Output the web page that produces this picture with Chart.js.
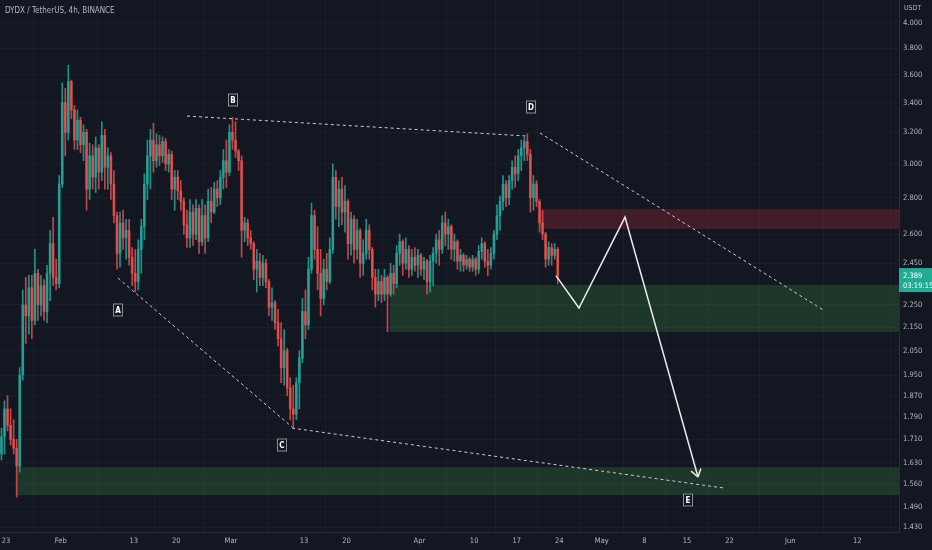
<!DOCTYPE html>
<html><head><meta charset="utf-8">
<script src="https://cdn.jsdelivr.net/npm/chart.js@4.4.0/dist/chart.umd.min.js"></script>
<style>html,body{margin:0;padding:0;background:#131722;overflow:hidden}canvas{display:block}</style>
</head><body>
<canvas id="c" width="932" height="550"></canvas>
<script>
// Time unit: days since 2023-01-23 00:00. 12h candles, first starts Jan 22 00:00.
const firstCandleDay = -1;
const candleDays = 0.5;
const opens = [1.66,1.72,1.82,1.76,1.71,1.68,1.62,1.95,2.25,2.20,2.33,2.18,2.40,2.25,2.34,2.22,2.40,2.55,2.38,2.35,
2.88,3.40,3.20,3.55,3.35,3.15,3.28,3.12,3.20,2.85,3.05,2.92,3.10,2.95,3.18,2.98,3.05,2.88,2.70,2.50,
2.66,2.58,2.62,2.48,2.40,2.36,2.52,2.64,2.88,3.05,3.15,3.02,3.12,3.05,3.14,3.00,3.06,2.85,2.92,2.84,
2.78,2.65,2.58,2.72,2.60,2.74,2.56,2.70,2.58,2.78,2.72,2.85,2.80,2.92,3.02,2.95,3.20,3.15,3.08,3.02,
2.62,2.66,2.58,2.55,2.42,2.46,2.38,2.45,2.36,2.24,2.26,2.17,2.10,1.98,2.05,1.90,1.82,1.80,1.92,2.02,
2.22,2.16,2.42,2.70,2.52,2.40,2.28,2.42,2.36,2.52,2.92,2.75,2.85,2.72,2.78,2.55,2.68,2.52,2.62,2.45,
2.50,2.62,2.52,2.38,2.30,2.36,2.30,2.38,2.30,2.40,2.35,2.50,2.56,2.45,2.52,2.42,2.48,2.44,2.49,2.42,
2.46,2.36,2.46,2.50,2.57,2.52,2.66,2.60,2.64,2.52,2.56,2.46,2.49,2.44,2.47,2.43,2.47,2.42,2.51,2.55,
2.46,2.44,2.50,2.60,2.70,2.78,2.88,2.80,2.90,2.98,2.94,3.05,3.10,3.14,3.06,2.80,2.88,2.78,2.66,2.60,
2.47,2.53,2.49,2.52];
const highs = [1.75,1.85,1.87,1.82,1.78,1.71,1.98,2.32,2.38,2.39,2.39,2.52,2.42,2.39,2.37,2.44,2.62,2.69,2.47,2.93,
3.54,3.50,3.67,3.56,3.38,3.35,3.30,3.25,3.22,3.13,3.12,3.17,3.12,3.27,3.22,3.10,3.07,2.96,2.72,2.72,
2.73,2.68,2.68,2.53,2.52,2.57,2.68,2.94,3.15,3.22,3.26,3.19,3.18,3.17,3.16,3.09,3.08,2.96,2.96,2.90,
2.80,2.73,2.79,2.76,2.79,2.76,2.79,2.76,2.85,2.86,2.89,2.90,2.96,3.09,3.15,3.25,3.30,3.27,3.09,3.05,
2.69,2.68,2.62,2.56,2.52,2.50,2.49,2.47,2.37,2.33,2.27,2.23,2.17,2.14,2.06,1.94,1.91,1.94,2.05,2.28,
2.32,2.48,2.77,2.73,2.64,2.52,2.47,2.50,2.58,3.00,2.96,2.90,2.92,2.87,2.79,2.72,2.70,2.68,2.63,2.57,
2.68,2.65,2.53,2.42,2.42,2.39,2.42,2.39,2.45,2.44,2.54,2.60,2.57,2.58,2.54,2.52,2.53,2.52,2.50,2.48,
2.47,2.49,2.53,2.60,2.62,2.70,2.72,2.68,2.65,2.60,2.57,2.52,2.50,2.49,2.48,2.49,2.48,2.54,2.58,2.56,
2.52,2.53,2.62,2.76,2.81,2.93,2.90,2.93,3.02,3.05,3.09,3.15,3.17,3.19,3.09,2.93,2.90,2.79,2.73,2.61,
2.56,2.55,2.55,2.53];
const lows = [1.64,1.66,1.74,1.69,1.66,1.52,1.60,1.93,2.08,2.12,2.10,2.16,2.18,2.20,2.18,2.17,2.27,2.34,2.32,2.33,
2.86,3.05,3.15,3.29,3.09,3.09,3.07,3.02,2.73,2.79,2.85,2.83,2.85,2.90,2.85,2.85,2.79,2.66,2.42,2.43,
2.52,2.47,2.44,2.34,2.31,2.32,2.40,2.57,2.79,2.85,2.95,2.98,2.99,3.01,2.96,2.95,2.79,2.73,2.79,2.73,
2.60,2.53,2.53,2.54,2.57,2.50,2.54,2.50,2.56,2.66,2.71,2.75,2.76,2.85,2.86,2.93,3.09,3.04,2.96,2.48,
2.56,2.54,2.52,2.37,2.31,2.34,2.34,2.33,2.20,2.18,2.14,2.07,1.92,1.91,1.87,1.78,1.75,1.78,1.82,2.00,
2.10,2.14,2.40,2.47,2.32,2.20,2.25,2.32,2.35,2.50,2.68,2.64,2.65,2.61,2.47,2.49,2.45,2.47,2.38,2.39,
2.47,2.47,2.32,2.24,2.27,2.26,2.27,2.13,2.29,2.30,2.33,2.44,2.39,2.42,2.38,2.39,2.41,2.38,2.39,2.37,
2.30,2.31,2.34,2.45,2.44,2.50,2.54,2.52,2.47,2.46,2.42,2.41,2.41,2.42,2.41,2.41,2.39,2.40,2.47,2.43,
2.39,2.42,2.47,2.57,2.62,2.73,2.75,2.76,2.85,2.86,2.90,2.96,3.02,3.02,2.72,2.73,2.75,2.61,2.57,2.43,
2.44,2.44,2.47,2.35];
const closes = [1.72,1.82,1.76,1.71,1.68,1.62,1.95,2.25,2.20,2.33,2.18,2.40,2.25,2.34,2.22,2.40,2.55,2.38,2.35,2.88,
3.40,3.20,3.55,3.35,3.15,3.28,3.12,3.20,2.85,3.05,2.92,3.10,2.95,3.18,2.98,3.05,2.88,2.70,2.50,2.66,
2.58,2.62,2.48,2.40,2.36,2.52,2.64,2.88,3.05,3.15,3.02,3.12,3.05,3.14,3.00,3.06,2.85,2.92,2.84,2.78,
2.65,2.58,2.72,2.60,2.74,2.56,2.70,2.58,2.78,2.72,2.85,2.80,2.92,3.02,2.95,3.20,3.15,3.08,3.02,2.62,
2.66,2.58,2.55,2.42,2.46,2.38,2.45,2.36,2.24,2.26,2.17,2.10,1.98,2.05,1.90,1.82,1.80,1.92,2.02,2.22,
2.16,2.42,2.70,2.52,2.40,2.28,2.42,2.36,2.52,2.92,2.75,2.85,2.72,2.78,2.55,2.68,2.52,2.62,2.45,2.50,
2.62,2.52,2.38,2.30,2.36,2.30,2.38,2.30,2.40,2.35,2.50,2.56,2.45,2.52,2.42,2.48,2.44,2.49,2.42,2.46,
2.36,2.46,2.50,2.57,2.52,2.66,2.60,2.64,2.52,2.56,2.46,2.49,2.44,2.47,2.43,2.47,2.42,2.51,2.55,2.46,
2.44,2.50,2.60,2.70,2.78,2.88,2.80,2.90,2.98,2.94,3.05,3.10,3.14,3.06,2.80,2.88,2.78,2.66,2.60,2.47,
2.53,2.49,2.52,2.389];

const yTicks = [4.0,3.8,3.6,3.4,3.2,3.0,2.8,2.6,2.45,2.25,2.15,2.05,1.95,1.87,1.79,1.71,1.63,1.56,1.49,1.43];
const xTickDays = [0,9,21,28,37,49,56,68,77,84,91,98,105,112,119,129,140];
const xTickLabels = ['23','Feb','13','20','Mar','13','20','Apr','10','17','24','May','8','15','22','Jun','12'];
const xRange = [-0.99, 146.88];
const yRange = [1.4157, 4.192];
const title = 'DYDX / TetherUS, 4h, BINANCE';
const currency = 'USDT';
const lastPrice = 2.389;
const countdown = '03:19:15';

// Drawings (data coordinates: [day, price])
const zones = [
  {from: 87.83, top: 2.736, bottom: 2.627, color: 'rgba(242,54,69,0.21)'},
  {from: 63.16, top: 2.344, bottom: 2.129, color: 'rgba(76,175,80,0.21)'},
  {from: 1.81, top: 1.616, bottom: 1.526, color: 'rgba(76,175,80,0.21)'}
];
const dashedLines = [
  [[29.77, 3.308], [85.69, 3.176]],
  [[87.83, 3.196], [134.70, 2.222]],
  [[18.42, 2.377], [47.04, 1.754]],
  [[47.04, 1.750], [117.93, 1.549]]
];
const projection = [[90.46, 2.389], [94.24, 2.236], [101.81, 2.692], [113.82, 1.584]];
const waveLabels = [
  {t: 'A', d: 18.42, p: 2.227},
  {t: 'B', d: 37.34, p: 3.418},
  {t: 'C', d: 45.39, p: 1.691},
  {t: 'D', d: 86.35, p: 3.370},
  {t: 'E', d: 112.17, p: 1.511}
];

const UP = 'rgba(38,166,154,0.85)', DN = 'rgba(239,83,80,0.8)';
const FONT = '"Liberation Sans Narrow", "DejaVu Sans Condensed", "Arial Narrow", Arial, sans-serif';
const TXT = '#b2b5be';
const GRID = 'rgba(255,255,255,0.03)';

const xs = opens.map((_, i) => firstCandleDay + (i + 0.5) * candleDays);
const colors = opens.map((o, i) => closes[i] >= o ? UP : DN);

const noPad = s => { s.paddingLeft = 0; s.paddingRight = 0; s.paddingTop = 0; s.paddingBottom = 0; };

const drawings = {
  id: 'drawings',
  beforeDraw(chart) {
    const c = chart.ctx;
    c.save(); c.fillStyle = '#131722'; c.fillRect(0, 0, chart.width, chart.height); c.restore();
  },
  beforeDatasetsDraw(chart) {
    const {ctx: c, chartArea: a, scales: {x, y}} = chart;
    c.save();
    zones.forEach(z => {
      const x0 = x.getPixelForValue(z.from);
      const y0 = y.getPixelForValue(z.top), y1 = y.getPixelForValue(z.bottom);
      c.fillStyle = z.color;
      c.fillRect(x0, y0, a.right - x0, y1 - y0);
    });
    c.restore();
  },
  afterDatasetsDraw(chart) {
    const {ctx: c, chartArea: a, scales: {x, y}} = chart;
    const P = pt => [x.getPixelForValue(pt[0]), y.getPixelForValue(pt[1])];
    c.save();
    c.beginPath(); c.rect(a.left, a.top, a.width, a.height); c.clip();
    c.strokeStyle = '#c9ccd4'; c.lineWidth = 1; c.setLineDash([3, 3]);
    dashedLines.forEach(l => {
      const p0 = P(l[0]), p1 = P(l[1]);
      c.beginPath(); c.moveTo(p0[0], p0[1]); c.lineTo(p1[0], p1[1]); c.stroke();
    });
    c.setLineDash([]);
    c.strokeStyle = '#ececec'; c.lineWidth = 1.5; c.lineJoin = 'miter';
    c.beginPath();
    projection.forEach((pt, i) => { const p = P(pt); i ? c.lineTo(p[0], p[1]) : c.moveTo(p[0], p[1]); });
    c.stroke();
    const tip = P(projection[projection.length - 1]), prev = P(projection[projection.length - 2]);
    const ang = Math.atan2(prev[1] - tip[1], prev[0] - tip[0]);
    c.beginPath();
    [0.6, -0.6].forEach(da => {
      c.moveTo(tip[0], tip[1]);
      c.lineTo(tip[0] + 9 * Math.cos(ang + da), tip[1] + 9 * Math.sin(ang + da));
    });
    c.stroke();
    c.font = 'bold 8px ' + FONT; c.textAlign = 'center'; c.textBaseline = 'middle';
    waveLabels.forEach(l => {
      const px = Math.round(x.getPixelForValue(l.d)), py = Math.round(y.getPixelForValue(l.p));
      c.fillStyle = '#131722'; c.fillRect(px - 5, py - 6.5, 10, 13);
      c.strokeStyle = '#8a8e99'; c.lineWidth = 1; c.strokeRect(px - 4.5, py - 6, 9, 12);
      c.fillStyle = '#ffffff'; c.fillText(l.t, px, py + 0.5);
    });
    c.restore();
  },
  afterDraw(chart) {
    const {ctx: c, chartArea: a, scales: {y}} = chart;
    c.save();
    c.fillStyle = TXT; c.font = '8px ' + FONT; c.textBaseline = 'middle'; c.textAlign = 'left';
    c.fillText(title, 5, 11);
    c.font = '7px ' + FONT; c.fillText(currency, a.right + 5, 8);
    const py = y.getPixelForValue(lastPrice);
    c.fillStyle = '#22ab94'; c.fillRect(a.right, py - 7.5, chart.width - a.right, 24);
    c.fillStyle = '#ffffff'; c.font = '7.5px ' + FONT;
    c.fillText(lastPrice.toFixed(3), a.right + 4, py);
    c.fillText(countdown, a.right + 4, py + 10);
    c.restore();
  }
};

new Chart(document.getElementById('c'), {
  type: 'bar',
  data: {
    datasets: [
      {label: 'wick', data: xs.map((d, i) => ({x: d, y: [lows[i], highs[i]]})),
       backgroundColor: colors, barThickness: 1, grouped: false, order: 2, borderSkipped: false},
      {label: 'body', data: xs.map((d, i) => ({x: d, y: [opens[i], closes[i]]})),
       backgroundColor: colors, barThickness: 2, grouped: false, order: 1, borderSkipped: false}
    ]
  },
  options: {
    responsive: false, animation: false, devicePixelRatio: 1,
    layout: {padding: 0},
    plugins: {legend: {display: false}, tooltip: {enabled: false}},
    scales: {
      x: {
        type: 'linear', min: xRange[0], max: xRange[1], offset: false,
        grid: {color: GRID, drawTicks: false},
        border: {color: '#2a2e39'},
        ticks: {color: TXT, font: {family: FONT, size: 7.5}, padding: 5, maxRotation: 0, autoSkip: false,
                callback: (v, i) => xTickLabels[i]},
        afterBuildTicks: s => { s.ticks = xTickDays.map(v => ({value: v})); },
        afterFit: s => { s.height = 18; noPad(s); }
      },
      y: {
        type: 'logarithmic', position: 'right', min: yRange[0], max: yRange[1],
        grid: {color: GRID, drawTicks: false},
        border: {color: '#2a2e39'},
        ticks: {color: TXT, font: {family: FONT, size: 7.5}, padding: 4, autoSkip: false,
                callback: v => Number(v).toFixed(3)},
        afterBuildTicks: s => { s.ticks = yTicks.map(v => ({value: v})); },
        afterFit: s => { s.width = 33; noPad(s); }
      }
    }
  },
  plugins: [drawings]
});
</script>
</body></html>
